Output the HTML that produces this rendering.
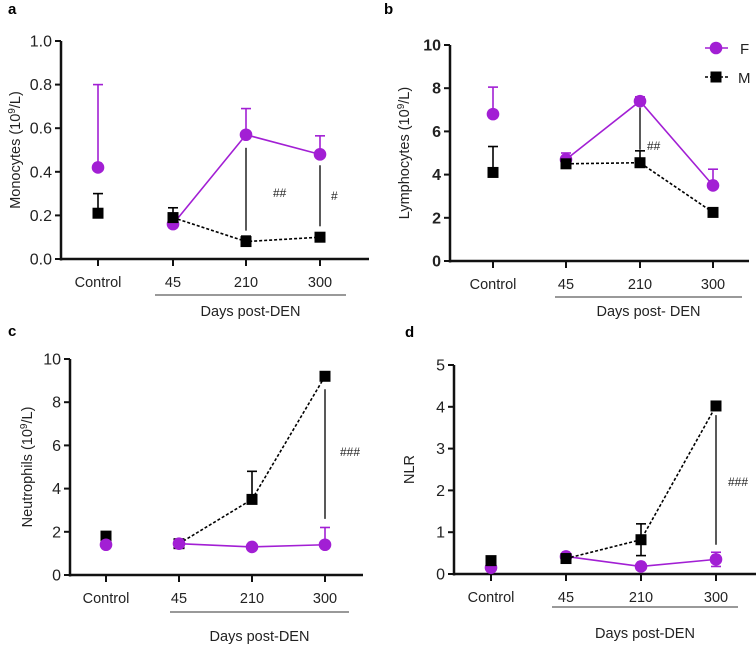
<!DOCTYPE html>
<html><head><meta charset="utf-8"><style>
body{margin:0;background:#fff;}
svg{display:block;font-family:"Liberation Sans",Arial,sans-serif;}
</style></head><body>
<svg id="fig" width="756" height="647"></svg>
<script>
const categories=["Control","45","210","300"];
const monoF=[0.42,0.16,0.57,0.48];
const monoFErr=[0.38,0,0.12,0.085];
const monoM=[0.21,0.19,0.08,0.10];
const monoMErr=[0.09,0.045,0.025,0];
const lymF=[6.8,4.7,7.4,3.5];
const lymFErr=[1.25,0.3,0.2,0.75];
const lymM=[4.1,4.5,4.55,2.25];
const lymMErr=[1.2,0,0.55,0];
const neuF=[1.4,1.45,1.3,1.4];
const neuFErr=[0,0,0,0.8];
const neuM=[1.8,1.45,3.5,9.2];
const neuMErr=[0.2,0.1,1.3,0];
const nlrF=[0.15,0.42,0.18,0.35];
const nlrFErr=[0,0,0,0.17];
const nlrM=[0.32,0.37,0.82,4.02];
const nlrMErr=[0,0,0.38,0];
const ticksA=["0.0","0.2","0.4","0.6","0.8","1.0"];
const ticksB=["0","2","4","6","8","10"];
const ticksC=["0","2","4","6","8","10"];
const ticksD=["0","1","2","3","4","5"];

const NS="http://www.w3.org/2000/svg";
const svg=document.getElementById('fig');
const PUR="#a21fd4";
function el(tag,attrs,parent,text){const e=document.createElementNS(NS,tag);for(const k in attrs)e.setAttribute(k,attrs[k]);if(text!==undefined)e.textContent=text;(parent||svg).appendChild(e);return e;}

function panel(cfg){
  const g=el('g',{});
  
  
  const y=v=>cfg.y0-(v/cfg.max)*(cfg.y0-cfg.yTop);
  const x=i=>cfg.xs[i];
  const lt=el('text',{x:cfg.letterX,y:cfg.letterY,'font-size':15,'font-weight':'bold'},g,cfg.letter);
  
  
  const ya=el('line',{x1:cfg.ax,y1:cfg.yTop,x2:cfg.ax,y2:cfg.y0+1.5,stroke:'#111','stroke-width':2.5},g);
  
  
  const xa=el('line',{x1:cfg.ax-1,y1:cfg.y0,x2:cfg.axEnd,y2:cfg.y0,stroke:'#111','stroke-width':2.5},g);
  
  
  cfg.ticks.forEach((t,i)=>{
    const v=cfg.max*i/(cfg.ticks.length-1);
    el('line',{x1:cfg.ax-6,y1:y(v),x2:cfg.ax,y2:y(v),stroke:'#111','stroke-width':2},g);
    const tl=el('text',{x:cfg.ax-9,y:y(v)+5.5,'font-size':16,'text-anchor':'end','font-weight':cfg.bold?'bold':'normal',fill:'#222'},g,t);
    
    
  });
  categories.forEach((c,i)=>{
    el('line',{x1:x(i),y1:cfg.y0,x2:x(i),y2:cfg.y0+7,stroke:'#111','stroke-width':2},g);
    const tl=el('text',{x:x(i),y:cfg.y0+28,'font-size':14.5,'text-anchor':'middle',fill:'#222'},g,c);
    
    
  });
  el('line',{x1:cfg.ulX1,y1:cfg.ulY,x2:cfg.ulX2,y2:cfg.ulY,stroke:'#333','stroke-width':1},g);
  const xt=el('text',{x:(cfg.ulX1+cfg.ulX2)/2,y:cfg.titleY,'font-size':14.5,'text-anchor':'middle',fill:'#222'},g,cfg.xTitle);
  
  
  const yt=el('text',{transform:`translate(${cfg.ytX},${(cfg.yTop+cfg.y0)/2}) rotate(-90)`,'font-size':14.5,'text-anchor':'middle',fill:'#222'},g);
  
  
  if(cfg.unit){yt.textContent=cfg.yTitle+' (10';el('tspan',{dy:-5,'font-size':10},yt,'9');el('tspan',{dy:5},yt,'/L)');}
  else yt.textContent=cfg.yTitle;
  cfg.sig.forEach(s=>{
    el('line',{x1:x(s.i),y1:y(s.a),x2:x(s.i),y2:y(s.b),stroke:'#222','stroke-width':1.5},g);
    const st=el('text',{x:s.tx,y:s.ty,'font-size':12,fill:'#222'},g,s.t);
    
    
  });
  function series(vals,errs,color,dash,shape,name,errDown){
    let d='';
    for(let i=1;i<vals.length;i++)d+=(i===1?'M':'L')+x(i)+','+y(vals[i]);
    const p=el('path',{d:d,fill:'none',stroke:color,'stroke-width':1.6,'stroke-dasharray':dash||'none'},g);
    
    
    vals.forEach((v,i)=>{
      if(errs[i]>0){
        const top=y(v+errs[i]);
        el('line',{x1:x(i),y1:y(v),x2:x(i),y2:top,stroke:color,'stroke-width':1.6},g);
        el('line',{x1:x(i)-5,y1:top,x2:x(i)+5,y2:top,stroke:color,'stroke-width':1.6},g);
        if(errDown&&errDown[i]){const b=y(v-errs[i]);el('line',{x1:x(i),y1:y(v),x2:x(i),y2:b,stroke:color,'stroke-width':1.6},g);el('line',{x1:x(i)-5,y1:b,x2:x(i)+5,y2:b,stroke:color,'stroke-width':1.6},g);}
      }
      let m;
      if(shape==='c')m=el('circle',{cx:x(i),cy:y(v),r:6.3,fill:color},g);
      else m=el('rect',{x:x(i)-5.5,y:y(v)-5.5,width:11,height:11,fill:color},g);
      
      
    });
  }
  if(cfg.fFirst){series(cfg.M,cfg.MErr,'#000','3,2','s','male',cfg.mDown);series(cfg.F,cfg.FErr,PUR,null,'c','female',cfg.fDown);}
  else{series(cfg.F,cfg.FErr,PUR,null,'c','female',cfg.fDown);series(cfg.M,cfg.MErr,'#000','3,2','s','male',cfg.mDown);}
  return g;
}

panel({letter:'a',letterX:8,letterY:14,ax:61,axEnd:369,yTop:41,y0:259,max:1,ticks:ticksA,xs:[98,173,246,320],
  ulX1:155,ulX2:346,ulY:295,titleY:316,xTitle:'Days post-DEN',ytX:20,yTitle:'Monocytes',unit:true,
  F:monoF,FErr:monoFErr,M:monoM,MErr:monoMErr,fFirst:false,
  sig:[{i:2,a:0.51,b:0.13,t:'##',tx:273,ty:197},{i:3,a:0.43,b:0.15,t:'#',tx:331,ty:200}]});
panel({letter:'b',letterX:384,letterY:14,ax:450,axEnd:749,yTop:45,y0:261,max:10,ticks:ticksB,bold:true,xs:[493,566,640,713],
  ulX1:555,ulX2:742,ulY:297,titleY:316,xTitle:'Days post- DEN',ytX:409,yTitle:'Lymphocytes',unit:true,
  F:lymF,FErr:lymFErr,M:lymM,MErr:lymMErr,fFirst:false,
  sig:[{i:2,a:7.1,b:5.15,t:'##',tx:647,ty:150}]});
panel({letter:'c',letterX:8,letterY:336,ax:70,axEnd:363,yTop:359,y0:575,max:10,ticks:ticksC,xs:[106,179,252,325],
  ulX1:170,ulX2:349,ulY:612,titleY:641,xTitle:'Days post-DEN',ytX:32,yTitle:'Neutrophils',unit:true,
  F:neuF,FErr:neuFErr,M:neuM,MErr:neuMErr,fFirst:true,
  sig:[{i:3,a:8.6,b:2.6,t:'###',tx:340,ty:456}]});
panel({letter:'d',letterX:405,letterY:337,ax:454,axEnd:756,yTop:365,y0:574,max:5,ticks:ticksD,xs:[491,566,641,716],
  ulX1:552,ulX2:738,ulY:607,titleY:638,xTitle:'Days post-DEN',ytX:414,yTitle:'NLR',unit:false,
  F:nlrF,FErr:nlrFErr,M:nlrM,MErr:nlrMErr,fFirst:false,fDown:[0,0,0,1],mDown:[0,0,1,0],
  sig:[{i:3,a:3.8,b:0.7,t:'###',tx:728,ty:486}]});

const lg=el('g',{});


el('line',{x1:705,y1:48,x2:728,y2:48,stroke:PUR,'stroke-width':1.6},lg);
const lc=el('circle',{cx:716,cy:48,r:6.3,fill:PUR},lg);


el('text',{x:740,y:54,'font-size':15,fill:'#222'},lg,'F');
el('line',{x1:705,y1:77,x2:728,y2:77,stroke:'#000','stroke-width':1.6,'stroke-dasharray':'3,2'},lg);
const lr=el('rect',{x:710.5,y:71.5,width:11,height:11,fill:'#000'},lg);


el('text',{x:738,y:83,'font-size':15,fill:'#222'},lg,'M');
</script>
</body></html>
